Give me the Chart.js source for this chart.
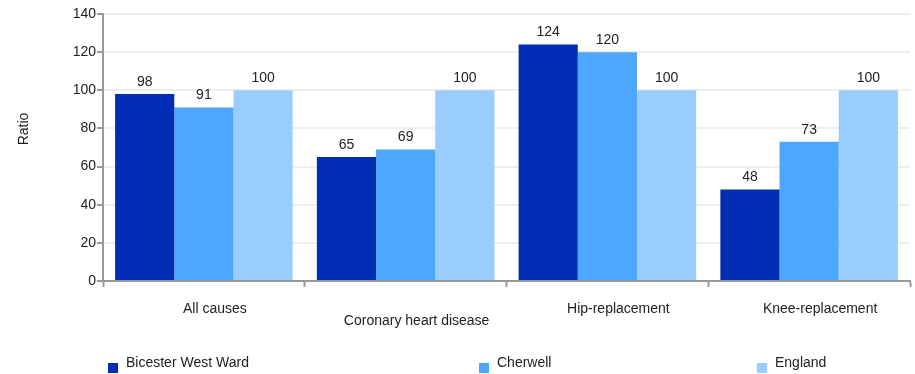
<!DOCTYPE html>
<html>
<head>
<meta charset="utf-8">
<script src="https://cdn.jsdelivr.net/npm/chart.js@4/dist/chart.umd.min.js"></script>
<style>
  html, body { margin: 0; padding: 0; background: #fff; }
  #wrap { position: relative; width: 915px; height: 374px; font-family: "Liberation Sans", Arial, sans-serif; }
  #legend .item { position: absolute; font-size: 14px; color: #222; }
  #legend .box { position: absolute; width: 10px; height: 10px; }
</style>
</head>
<body>
<div id="wrap">
  <canvas id="chart" width="915" height="374"></canvas>
  <div id="legend"></div>
</div>
<script>
// Chart data
const categories = ['All causes', 'Coronary heart disease', 'Hip-replacement', 'Knee-replacement'];
const seriesNames = ['Bicester West Ward', 'Cherwell', 'England'];
const bicesterValues = [98, 65, 124, 48];
const cherwellValues = [91, 69, 120, 73];
const englandValues = [100, 100, 100, 100];
const yTicks = [0, 20, 40, 60, 80, 100, 120, 140];
const yTitle = 'Ratio';

const COLORS = ['#002db3', '#4da6ff', '#99ccff'];
const TEXT = '#222';
const FONT = '"Liberation Sans", Arial, sans-serif';
const FSIZE = 14;

// value labels above each bar + the rotated y title
const barLabels = {
    id: 'barLabels',
    afterDatasetsDraw(chart) {
        const ctx = chart.ctx;
        ctx.save();
        ctx.fillStyle = TEXT;
        ctx.font = FSIZE + 'px ' + FONT;
        ctx.textAlign = 'center';
        ctx.textBaseline = 'bottom';
        chart.data.datasets.forEach((ds, i) => {
            chart.getDatasetMeta(i).data.forEach((bar, j) => {
                ctx.fillText(ds.data[j], bar.x, bar.y - 5);
            });
        });
        // y axis title
        ctx.translate(24, 129);
        ctx.rotate(-Math.PI / 2);
        ctx.textBaseline = 'middle';
        ctx.fillText(yTitle, 0, 0);
        ctx.restore();
    }
};

const seriesValues = [bicesterValues, cherwellValues, englandValues];

new Chart(document.getElementById('chart'), {
    type: 'bar',
    data: {
        labels: categories,
        datasets: seriesNames.map((name, i) => ({
            label: name,
            data: seriesValues[i],
            backgroundColor: COLORS[i],
            borderWidth: 0,
            categoryPercentage: 0.88,
            barPercentage: 1.0,
        })),
    },
    options: {
        responsive: false,
        animation: false,
        layout: { padding: { left: 0, right: 5, top: 14, bottom: 40 } },
        plugins: {
            legend: { display: false },
            tooltip: { enabled: false },
        },
        scales: {
            x: {
                grid: {
                    offset: true,
                    drawOnChartArea: false,
                    drawTicks: true,
                    tickLength: 6,
                    tickColor: '#999',
                    tickWidth: 2,
                },
                border: { color: '#999', width: 2 },
                ticks: {
                    color: TEXT,
                    font: { family: FONT, size: FSIZE, lineHeight: 0.85 },
                    maxRotation: 0,
                    autoSkip: false,
                    padding: 16,
                    labelOffset: 11,
                    // stagger the long second label one line lower
                    callback: (v, i) => i === 1 ? ['', categories[i]] : categories[i],
                },
                afterFit: s => { s.height = 53; },
            },
            y: {
                min: 0,
                max: 140,
                afterBuildTicks: s => { s.ticks = yTicks.map(v => ({ value: v })); },
                grid: {
                    color: '#eeeeee',
                    lineWidth: 2,
                    tickColor: '#999',
                    tickLength: 6,
                    tickWidth: 2,
                },
                border: { color: '#999', width: 2 },
                ticks: {
                    color: TEXT,
                    font: { family: FONT, size: FSIZE },
                    padding: 1,
                },
                afterFit: s => { s.width = 103; },
            },
        },
    },
    plugins: [barLabels],
});

// Legend below the chart
const legendPos = [108, 479, 757];
const legend = document.getElementById('legend');
seriesNames.forEach((name, i) => {
    const box = document.createElement('div');
    box.className = 'box';
    box.style.left = legendPos[i] + 'px';
    box.style.top = '363px';
    box.style.background = COLORS[i];
    legend.appendChild(box);

    const item = document.createElement('div');
    item.className = 'item';
    item.style.left = (legendPos[i] + 18) + 'px';
    item.style.top = '354px';
    item.textContent = name;
    legend.appendChild(item);
});
</script>
</body>
</html>
